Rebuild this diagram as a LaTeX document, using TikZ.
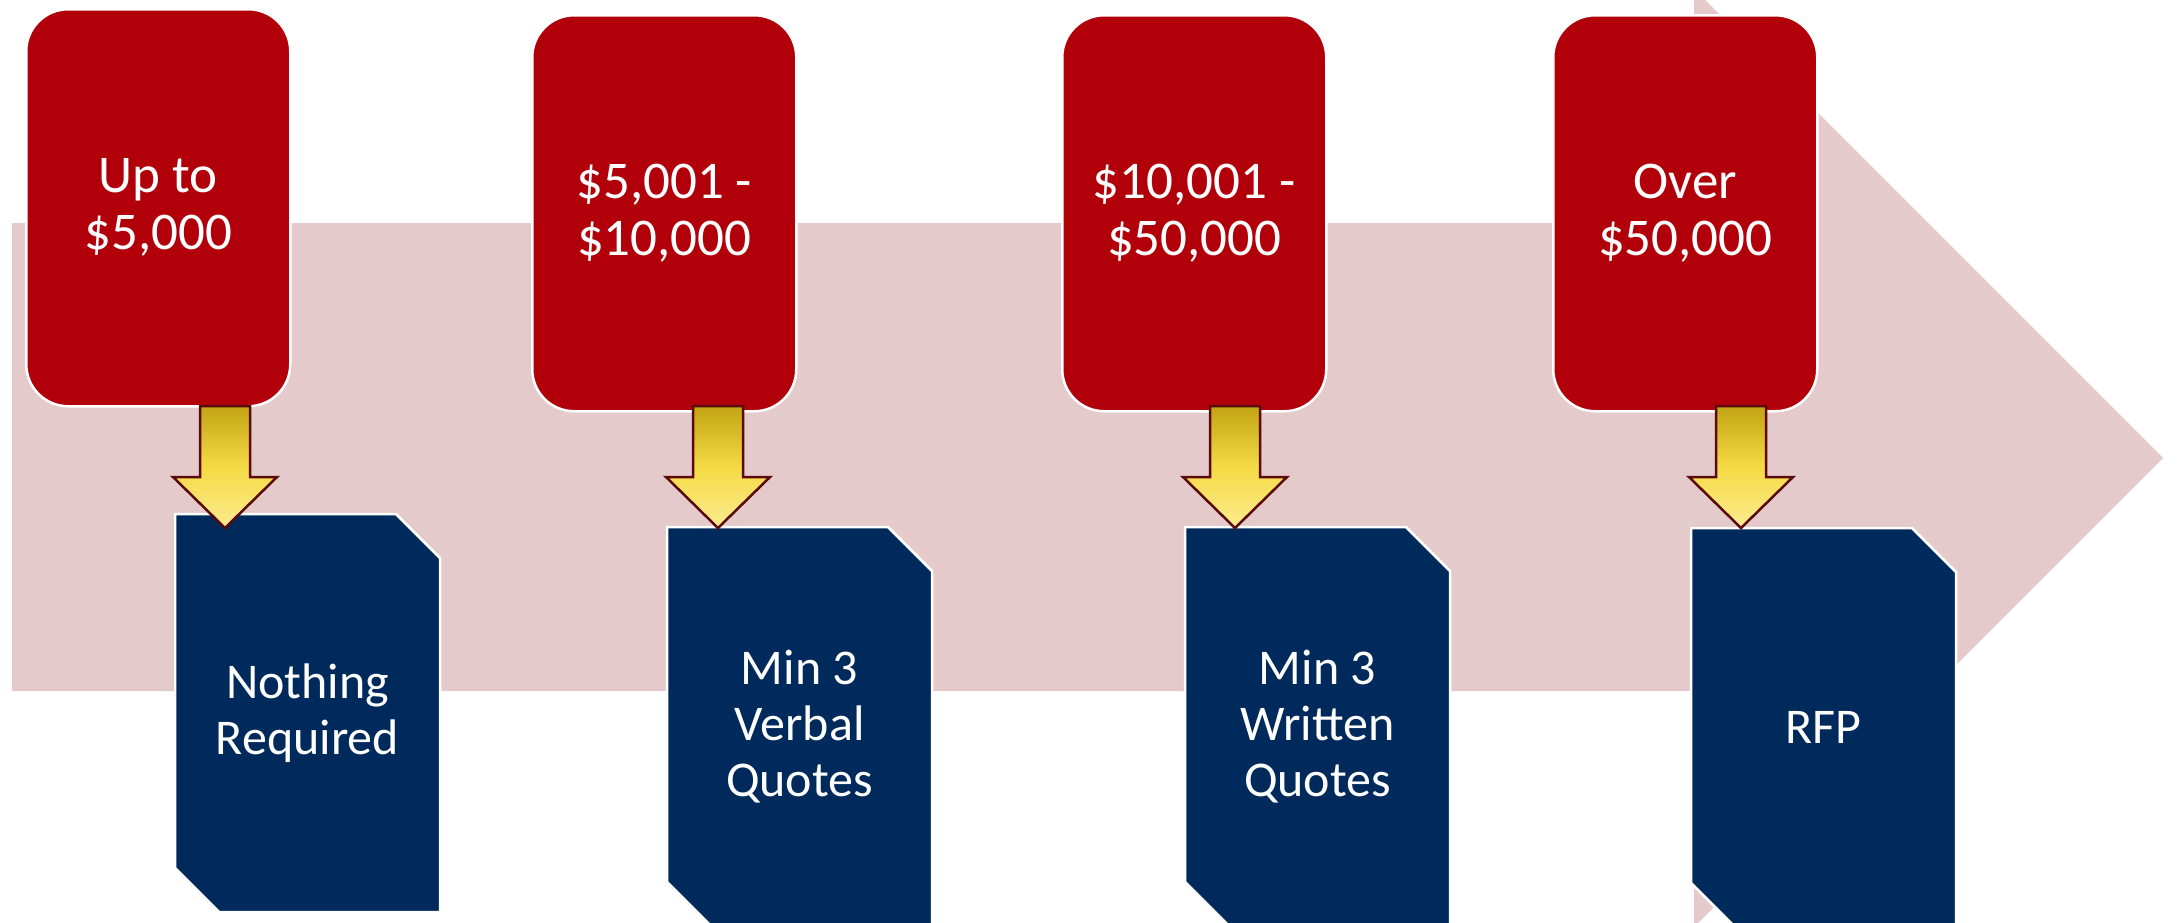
\documentclass[tikz,border=0pt]{standalone}
\usepackage{fontspec}
\setmainfont{Carlito}
\definecolor{bandpink}{HTML}{E5CACB}
\definecolor{boxred}{HTML}{B2000A}
\definecolor{docblue}{HTML}{002A5C}
\definecolor{goldtop}{HTML}{C3A313}
\definecolor{goldmid}{HTML}{F5DA45}
\definecolor{goldbot}{HTML}{FCEC90}
\definecolor{arrowedge}{HTML}{5A0A0A}
\newcommand\docpanel[5]{%
  \path[docshape] (#1,#2) -- ({#1+221},#2) -- ({#1+265},{#2+44}) -- ({#1+265},#3)
     -- ({#1+44},#3) -- (#1,{#3-44}) -- cycle;
  \node[doctext] (#4) at ({#1+132.5},{(#2+#3)/2}) {#5};}
\newcommand\goldarrow[1]{%
  \path[yarrow] ({#1-25},406) -- ({#1+25},406) -- ({#1+25},477) -- ({#1+52},477)
     -- (#1,528) -- ({#1-52},477) -- ({#1-25},477) -- cycle;}
\begin{document}
\begin{tikzpicture}[x=1pt,y=-1pt,
  redbox/.style={draw=white, line width=2.5pt, fill=boxred, rounded corners=42pt,
    minimum width=264pt, minimum height=396pt, anchor=north west, inner sep=0pt,
    text=white, align=center, font=\fontsize{53}{57}\selectfont},
  docshape/.style={draw=white, line width=2.5pt, fill=docblue, line join=miter},
  doctext/.style={text=white, align=center, inner sep=0pt, font=\fontsize{50}{56}\selectfont},
  band/.style={fill=bandpink},
  yarrow/.style={draw=arrowedge, line width=2.5pt, line join=miter,
    top color=goldtop, bottom color=goldbot, middle color=goldmid}]
\useasboundingbox (0,0) rectangle (2177,922);
\clip (0,0) rectangle (2177,922);
% big background arrow
\path[band] (12,223) -- (1694,223) -- (1694,-11) -- (2163,458) -- (1694,927)
   -- (1694,691) -- (12,691) -- cycle;
% price boxes
\node[redbox, minimum height=397pt] (r1) at (25,8) {Up to\\\$5,000};
\node[redbox] (r2) at (531,14) {\$5,001 -\\\$10,000};
\node[redbox] (r3) at (1061,14) {\$10,001 -\\\$50,000};
\node[redbox] (r4) at (1552,14) {Over\\\$50,000};
% requirement panels
\docpanel{175}{514}{912}{b1}{Nothing\\Required}
\docpanel{667}{527}{926}{b2}{Min 3\\Verbal\\Quotes}
\docpanel{1185}{527}{926}{b3}{Min 3\\Written\\Quotes}
\docpanel{1691}{528}{927}{b4}{RFP}
% block arrows
\goldarrow{225}
\goldarrow{718}
\goldarrow{1235}
\goldarrow{1741}
\end{tikzpicture}
\end{document}
